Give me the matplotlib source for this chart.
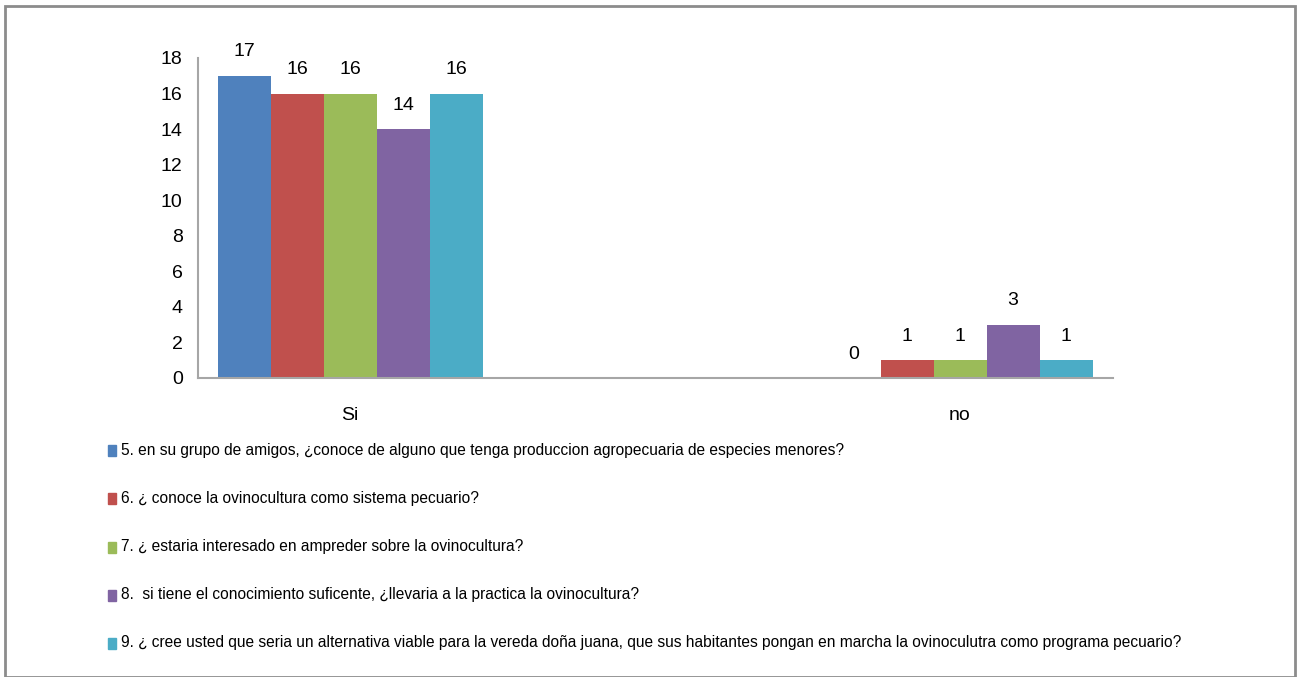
import numpy as np
import matplotlib
matplotlib.use('Agg')
import matplotlib.pyplot as plt
from matplotlib.patches import Rectangle

# datos
categorias = ['Si', 'no']
preguntas = [
    '5. en su grupo de amigos, ¿conoce de alguno que tenga produccion agropecuaria de especies menores?',
    '6. ¿ conoce la ovinocultura como sistema pecuario?',
    '7. ¿ estaria interesado en ampreder sobre la ovinocultura?',
    '8.  si tiene el conocimiento suficente, ¿llevaria a la practica la ovinocultura?',
    '9. ¿ cree usted que seria un alternativa viable para la vereda doña juana, que sus habitantes pongan en marcha la ovinoculutra como programa pecuario?',
]
valores_si = [17, 16, 16, 14, 16]
valores_no = [0, 1, 1, 3, 1]
colores = ['#4F81BD', '#C0504D', '#9BBB59', '#8064A2', '#4BACC6']

plt.rcParams['font.family'] = ['Liberation Sans', 'DejaVu Sans']

W, H = 1302, 677
fig = plt.figure(figsize=(W / 100, H / 100), dpi=100)

# marco exterior
fig.patches.append(Rectangle((5 / W, 0), 1290 / W, 1 - 6 / H, transform=fig.transFigure,
                             fill=False, edgecolor='#8C8C8C', linewidth=2))

ax = fig.add_axes([198 / W, 1 - 378 / H, (1113 - 198) / W, (378 - 58) / H])

x = np.arange(len(categorias))
ancho = 53 / 610
for i in range(len(preguntas)):
    vals = [valores_si[i], valores_no[i]]
    pos = x + (i - 2) * ancho
    bars = ax.bar(pos, vals, width=ancho, color=colores[i], linewidth=0)
    for b, v in zip(bars, vals):
        ax.annotate(str(v), (b.get_x() + b.get_width() / 2, v), xytext=(0, 11),
                    textcoords='offset points', ha='center', va='bottom', fontsize=14)

ax.set_xlim(-152 / 610, 1 + 153 / 610)
ax.set_ylim(0, 18)
ax.set_yticks(range(0, 19, 2))
ax.set_xticks(x)
ax.set_xticklabels(categorias)
ax.tick_params(axis='both', length=0, labelsize=14)
ax.tick_params(axis='x', pad=21)
ax.tick_params(axis='y', pad=11)
for s in ['top', 'right']:
    ax.spines[s].set_visible(False)
for s in ['left', 'bottom']:
    ax.spines[s].set_color('#A6A6A6')
    ax.spines[s].set_linewidth(1.5)

# leyenda
filas_y = [450, 498, 547, 595, 643]
for texto, color, yy in zip(preguntas, colores, filas_y):
    fig.patches.append(Rectangle((108 / W, 1 - (yy + 6) / H), 8 / W, 11 / H,
                                 transform=fig.transFigure, color=color))
    fig.text(121 / W, 1 - yy / H, texto, fontsize=11.2, va='center', ha='left')

fig.savefig('out.png', dpi=100)
